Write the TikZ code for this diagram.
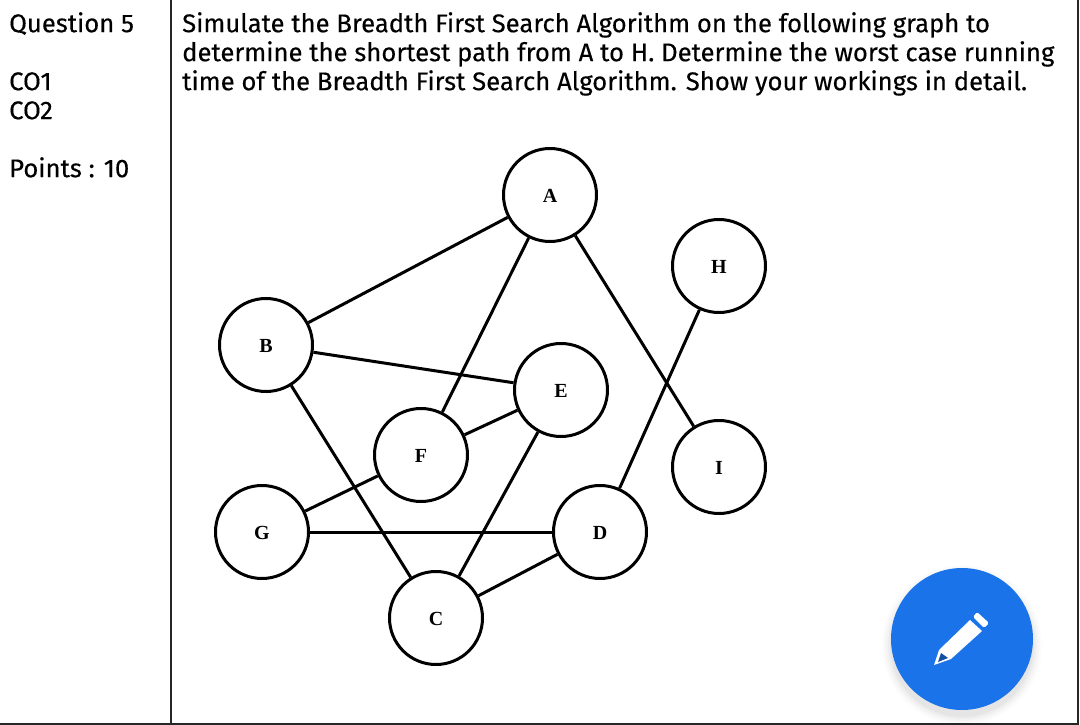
\documentclass[tikz,border=0pt]{standalone}
\usepackage{fontspec}
\setmainfont[FakeBold=0.25]{Fira Sans}
\newfontfamily\labelfont{Liberation Serif}
\definecolor{fabblue}{HTML}{1A73E8}
\tikzset{
    vertex/.style={draw,circle,line width=3pt,minimum size=93pt,inner sep=0pt,text height=15pt,text depth=0pt,font=\labelfont\bfseries\fontsize{20}{20}\selectfont},
    edge/.style={line width=3pt},
    framerule/.style={line width=2.5pt,color=black!85},
    cell/.style={inner sep=0pt,anchor=north west,align=left,font=\fontsize{25.65}{29}\selectfont}
}
\begin{document}
\begin{tikzpicture}[x=1pt,y=-1pt]
    \useasboundingbox (0,0) rectangle (1080,725);
    \fill[white] (0,0) rectangle (1080,725);
    % frame
    \coordinate (topsplit) at (171,0);
    \coordinate (botsplit) at (171,724);
    \coordinate (botleft) at (0,724);
    \coordinate (botright) at (1078,724);
    \coordinate (topright) at (1078,0);
    \draw[framerule] (topsplit)--(botsplit);
    \draw[framerule] (botleft)--(botright)--(topright);
    % texts
    \node[cell] (meta) at (9,12) {Question 5\\[29pt]CO1\\CO2\\[29pt]Points : 10};
    \node[cell] (question) at (182,12) {Simulate the Breadth First Search Algorithm on the following graph to\\determine the shortest path from A to H. Determine the worst case running\\time of the Breadth First Search Algorithm. Show your workings in detail.};
    % graph
    \node[vertex] (A) at (550,195) {A};
    \node[vertex] (H) at (719,266) {H};
    \node[vertex] (B) at (266,345) {B};
    \node[vertex] (E) at (561,390) {E};
    \node[vertex] (F) at (421,455) {F};
    \node[vertex] (I) at (719,467) {I};
    \node[vertex] (G) at (262,532) {G};
    \node[vertex] (D) at (600,532) {D};
    \node[vertex] (C) at (436,618) {C};
    \draw[edge] (A)--(B);
    \draw[edge] (A)--(F);
    \draw[edge] (A)--(I);
    \draw[edge] (B)--(E);
    \draw[edge] (B)--(C);
    \draw[edge] (E)--(F);
    \draw[edge] (E)--(C);
    \draw[edge] (F)--(G);
    \draw[edge] (G)--(D);
    \draw[edge] (D)--(C);
    \draw[edge] (D)--(H);
    % edit button
    \foreach \r/\o in {80/0.012,78/0.015,76/0.02,74/0.025,72/0.03}
        \fill[black,opacity=\o] (962,645) circle (\r);
    \fill[fabblue] (962,639) circle (71);
    \fill[white,rounded corners=1.5pt] (977,612)--(989,623)--(984,628)--(973,617)--cycle;
    \fill[white] (970,620)--(982,631)--(951,659)--(934,665)--(939,650)--cycle;
    \fill[fabblue!70!black] (941,653)--(948,658)--(938,662)--cycle;
\end{tikzpicture}
\end{document}
